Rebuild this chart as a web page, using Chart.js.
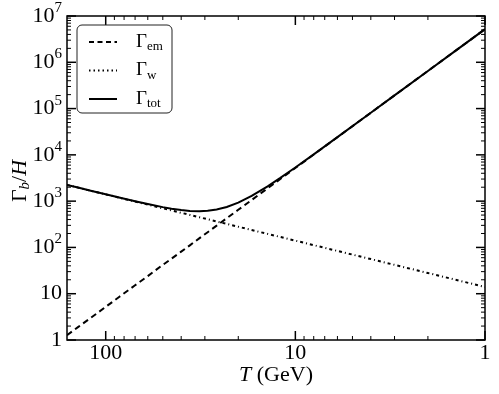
<!DOCTYPE html>
<html>
<head>
<meta charset="utf-8">
<script src="https://cdn.jsdelivr.net/npm/chart.js@4.4.1/dist/chart.umd.min.js"></script>
<style>
html, body { margin: 0; padding: 0; background: #fff; }
#chart { display: block; }
</style>
</head>
<body>
<canvas id="chart" width="499" height="394"></canvas>
<script>
// values (T in GeV, rates over H)
const temps    = [160, 140, 120, 100, 85, 70, 60, 50, 45, 40, 36, 32, 29, 26, 23, 20, 17, 14, 12, 10, 8, 6, 4, 3, 2, 1.5, 1];
const gammaEm  = [1.27, 1.9, 3.0, 5.2, 8.5, 15.2, 24, 42, 57, 81, 111, 159, 213, 296, 427, 650, 1058, 1895, 3009, 5200, 10156, 24074, 81250, 192593, 650000, 1540741, 5200000];
const gammaW   = [2240, 1960, 1680, 1400, 1190, 980, 840, 700, 630, 560, 504, 448, 406, 364, 322, 280, 238, 196, 168, 140, 112, 84, 56, 42, 28, 21, 14];
const gammaTot = [2241, 1962, 1683, 1405, 1198, 995, 864, 742, 687, 641, 615, 607, 619, 660, 749, 930, 1296, 2091, 3177, 5340, 10268, 24158, 81306, 192635, 650028, 1540762, 5200014];

const xTicks = [100, 10, 1];
const xTickLabels = ["100", "10", "1"];
const yTicks = [1, 10, 1e2, 1e3, 1e4, 1e5, 1e6, 1e7];
const yTickLabels = [["1", ""], ["10", ""], ["10", "2"], ["10", "3"], ["10", "4"], ["10", "5"], ["10", "6"], ["10", "7"]];

const seriesNames = [["\u0393", "em"], ["\u0393", "w"], ["\u0393", "tot"]];

const SERIF = '"Liberation Serif", "DejaVu Serif", serif';

function pts(ys) {
    return temps.map((t, i) => ({ x: t, y: ys[i] }));
}

function minorValues(min, max) {
    const out = [];
    for (let e = Math.floor(Math.log10(min)); e <= Math.ceil(Math.log10(max)); e++) {
        const d = Math.pow(10, e);
        for (let k = 2; k <= 9; k++) {
            const v = k * d;
            if (v > min && v < max) out.push(v);
        }
    }
    return out;
}

// draw a list of text runs [{t, font, dy}] starting at x (or aligned)
function drawRuns(ctx, runs, x, y, align) {
    let w = 0;
    runs.forEach(r => { ctx.font = r.font; r.w = ctx.measureText(r.t).width; w += r.w; });
    let cx = x;
    if (align === "center") cx = x - w / 2;
    else if (align === "right") cx = x - w;
    ctx.textAlign = "left";
    runs.forEach(r => {
        ctx.font = r.font;
        ctx.fillText(r.t, cx, y + (r.dy || 0));
        cx += r.w;
    });
}

const framePlugin = {
    id: "frame",
    afterDraw(chart) {
        const ctx = chart.ctx;
        const a = chart.chartArea;
        const xs = chart.scales.x, ys = chart.scales.y;
        ctx.save();
        ctx.strokeStyle = "#000";
        ctx.fillStyle = "#000";

        // box
        ctx.lineWidth = 1.5;
        ctx.strokeRect(a.left, a.top, a.right - a.left, a.bottom - a.top);

        // ticks, inward on all four sides
        function tick(x1, y1, x2, y2, w) {
            ctx.lineWidth = w;
            ctx.beginPath();
            ctx.moveTo(x1, y1);
            ctx.lineTo(x2, y2);
            ctx.stroke();
        }
        xTicks.forEach(v => {
            const px = xs.getPixelForValue(v);
            tick(px, a.bottom, px, a.bottom - 9, 1.5);
            tick(px, a.top, px, a.top + 9, 1.5);
        });
        minorValues(xs.min, xs.max).forEach(v => {
            const px = xs.getPixelForValue(v);
            tick(px, a.bottom, px, a.bottom - 4, 1);
            tick(px, a.top, px, a.top + 4, 1);
        });
        yTicks.forEach(v => {
            const py = ys.getPixelForValue(v);
            tick(a.left, py, a.left + 9, py, 1.5);
            tick(a.right, py, a.right - 9, py, 1.5);
        });
        minorValues(ys.min, ys.max).forEach(v => {
            const py = ys.getPixelForValue(v);
            tick(a.left, py, a.left + 4, py, 1);
            tick(a.right, py, a.right - 4, py, 1);
        });

        // tick labels
        ctx.textBaseline = "middle";
        xTicks.forEach((v, i) => {
            const px = xs.getPixelForValue(v);
            drawRuns(ctx, [{ t: xTickLabels[i], font: "22px " + SERIF }], px, a.bottom + 13, "center");
        });
        yTicks.forEach((v, i) => {
            const py = ys.getPixelForValue(v);
            const lab = yTickLabels[i];
            const runs = [{ t: lab[0], font: "22px " + SERIF }];
            if (lab[1]) runs.push({ t: lab[1], font: "15px " + SERIF, dy: -8 });
            drawRuns(ctx, runs, a.left - 5, py, "right");
        });

        // axis titles
        drawRuns(ctx, [
            { t: "T", font: "italic 22px " + SERIF },
            { t: " (GeV)", font: "22px " + SERIF }
        ], (a.left + a.right) / 2, 375, "center");

        ctx.save();
        ctx.translate(20, 181);
        ctx.rotate(-Math.PI / 2);
        drawRuns(ctx, [
            { t: "\u0393", font: "22px " + SERIF },
            { t: "b", font: "italic 15px " + SERIF, dy: 5 },
            { t: "/", font: "22px " + SERIF },
            { t: "H", font: "italic 22px " + SERIF }
        ], 0, 0, "center");
        ctx.restore();

        // legend
        const lx = 77, ly = 25, lw = 95, lh = 88;
        ctx.lineWidth = 1;
        ctx.strokeStyle = "#222";
        ctx.fillStyle = "#fff";
        ctx.beginPath();
        ctx.roundRect(lx, ly, lw, lh, 5);
        ctx.fill();
        ctx.stroke();
        ctx.fillStyle = "#000";
        chart.data.datasets.forEach((ds, i) => {
            const yy = 42 + i * 28.5;
            ctx.strokeStyle = ds.borderColor;
            ctx.lineWidth = ds.borderWidth;
            ctx.setLineDash(i === 0 ? [5, 3.5] : (i === 1 ? [1.5, 3] : []));
            ctx.beginPath();
            ctx.moveTo(89, yy);
            ctx.lineTo(117, yy);
            ctx.stroke();
            ctx.setLineDash([]);
            drawRuns(ctx, [
                { t: seriesNames[i][0], font: "19px " + SERIF },
                { t: seriesNames[i][1], font: "13px " + SERIF, dy: 5 }
            ], 136, yy, "left");
        });
        ctx.restore();
    }
};

new Chart(document.getElementById("chart"), {
    type: "line",
    data: {
        datasets: [
            { label: "em", data: pts(gammaEm), borderColor: "#000", borderWidth: 2, borderDash: [6, 4], pointRadius: 0, fill: false },
            { label: "w", data: pts(gammaW), borderColor: "#000", borderWidth: 2, borderDash: [3, 3, 1, 3], pointRadius: 0, fill: false },
            { label: "tot", data: pts(gammaTot), borderColor: "#000", borderWidth: 2, pointRadius: 0, fill: false }
        ]
    },
    options: {
        responsive: false,
        animation: false,
        devicePixelRatio: 1,
        layout: { padding: { left: 0, right: 14, top: 16, bottom: 0 } },
        plugins: {
            legend: { display: false },
            tooltip: { enabled: false }
        },
        scales: {
            x: {
                type: "logarithmic",
                reverse: true,
                min: 1,
                max: 160,
                ticks: { display: false },
                grid: { display: false },
                border: { display: false },
                afterFit: s => { s.height = 54; }
            },
            y: {
                type: "logarithmic",
                min: 1,
                max: 1e7,
                ticks: { display: false },
                grid: { display: false },
                border: { display: false },
                afterFit: s => { s.width = 67; }
            }
        }
    },
    plugins: [framePlugin]
});
</script>
</body>
</html>
